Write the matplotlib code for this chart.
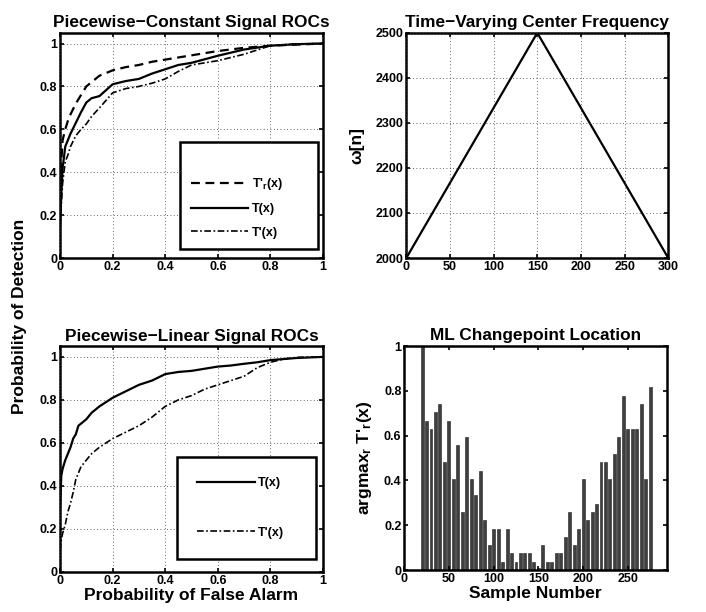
"""
Changepoint detection figure: ROC curves, centre frequency, ML changepoint histogram.
"""

import numpy as np
import matplotlib.pyplot as plt

# Piecewise-constant ROCs
PC_FA = [0, 0.005, 0.01, 0.02, 0.03, 0.04, 0.06, 0.08, 0.1, 0.12, 0.15, 0.2,
         0.25, 0.3, 0.35, 0.4, 0.45, 0.5, 0.6, 0.7, 0.8, 0.9, 1.0]
PC_TR = [0.2, 0.45, 0.55, 0.6, 0.64, 0.67, 0.72, 0.76, 0.8, 0.82, 0.85, 0.875,
         0.89, 0.9, 0.915, 0.925, 0.935, 0.945, 0.965, 0.98, 0.99, 0.995, 1.0]
PC_T = [0.15, 0.3, 0.42, 0.52, 0.55, 0.58, 0.63, 0.68, 0.725, 0.745, 0.755, 0.81,
        0.825, 0.835, 0.86, 0.88, 0.9, 0.91, 0.943, 0.972, 0.99, 0.997, 1.0]
PC_TP = [0.15, 0.25, 0.35, 0.45, 0.48, 0.52, 0.57, 0.6, 0.625, 0.66, 0.7, 0.77,
         0.79, 0.8, 0.815, 0.835, 0.87, 0.9, 0.92, 0.95, 0.99, 0.998, 1.0]

# Piecewise-linear ROCs
PL_FA = [0, 0.005, 0.01, 0.02, 0.03, 0.04, 0.05, 0.06, 0.07, 0.08, 0.1, 0.12,
         0.15, 0.2, 0.25, 0.3, 0.35, 0.4, 0.45, 0.5, 0.55, 0.6, 0.65, 0.7,
         0.75, 0.8, 0.85, 0.9, 1.0]
PL_T = [0.3, 0.45, 0.48, 0.52, 0.55, 0.58, 0.62, 0.64, 0.68, 0.69, 0.71, 0.74,
        0.77, 0.81, 0.84, 0.87, 0.89, 0.92, 0.93, 0.935, 0.945, 0.955, 0.96,
        0.968, 0.975, 0.985, 0.99, 0.995, 1.0]
PL_TP = [0.1, 0.15, 0.18, 0.22, 0.28, 0.32, 0.37, 0.43, 0.46, 0.49, 0.52, 0.55,
         0.58, 0.62, 0.65, 0.68, 0.72, 0.77, 0.8, 0.82, 0.85, 0.87, 0.89, 0.91,
         0.95, 0.975, 0.99, 0.998, 1.0]

# Time-varying centre frequency
FREQ_N = [0, 150, 300]
FREQ_W = [2000, 2500, 2000]

# ML changepoint location histogram
CP_N = list(range(20, 280, 5))
CP_VAL = [1.0, 0.667, 0.63, 0.704, 0.741, 0.482, 0.667, 0.407, 0.556, 0.259,
          0.593, 0.407, 0.333, 0.444, 0.222, 0.111, 0.185, 0.185, 0.037, 0.185,
          0.074, 0.037, 0.074, 0.074, 0.074, 0.037, 0.01, 0.111, 0.037, 0.037,
          0.074, 0.074, 0.148, 0.259, 0.111, 0.185, 0.407, 0.222, 0.259, 0.296,
          0.481, 0.481, 0.407, 0.519, 0.593, 0.778, 0.63, 0.63, 0.63, 0.741,
          0.407, 0.815]

plt.rcParams['font.family'] = ['Liberation Sans', 'DejaVu Sans']
plt.rcParams['font.weight'] = 'bold'
plt.rcParams['mathtext.fontset'] = 'custom'
plt.rcParams['mathtext.rm'] = 'Liberation Sans:bold'
plt.rcParams['mathtext.it'] = 'Liberation Sans:bold'
plt.rcParams['mathtext.bf'] = 'Liberation Sans:bold'

TICK_FS = 9
LABEL_FS = 12.5
TITLE_FS = 12.4
LEGEND_FS = 9


def style_axes(ax, grid=True):
    for s in ax.spines.values():
        s.set_linewidth(1.8)
    ax.tick_params(direction='in', top=True, right=True, length=3, width=1.2,
                   labelsize=TICK_FS, pad=2)
    for lab in ax.get_xticklabels() + ax.get_yticklabels():
        lab.set_fontweight('bold')
    if grid:
        ax.grid(True, linestyle=(0, (1, 3)), color='#333333', linewidth=0.6)
    ax.set_axisbelow(False)


def boxed_legend(ax, bbox, **kw):
    leg = ax.legend(loc='center', bbox_to_anchor=bbox, mode='expand',
                    borderaxespad=0, fontsize=LEGEND_FS, fancybox=False,
                    edgecolor='black', framealpha=1, **kw)
    leg.get_frame().set_linewidth(1.8)
    return leg


fig = plt.figure(figsize=(7.06, 6.12), dpi=100)
ax1 = fig.add_axes([0.085, 0.5784, 0.3725, 0.368])
ax2 = fig.add_axes([0.5755, 0.5784, 0.371, 0.368])
ax3 = fig.add_axes([0.085, 0.0654, 0.3725, 0.369])
ax4 = fig.add_axes([0.5725, 0.0686, 0.3725, 0.366])

ticks01 = [0, 0.2, 0.4, 0.6, 0.8, 1]
ticklab01 = ['0', '0.2', '0.4', '0.6', '0.8', '1']
dashdot = (0, (4, 1.5, 1, 1.5))

# Piecewise-constant ROCs
ax1.plot(PC_FA, PC_TR, color='black', lw=1.6, ls=(0, (4, 2.5)), label="T'$_r$(x)")
ax1.plot(PC_FA, PC_T, color='black', lw=1.6, ls='-', label='T(x)')
ax1.plot(PC_FA, PC_TP, color='black', lw=1.2, ls=dashdot, label="T'(x)")
ax1.set_xlim(0, 1)
ax1.set_ylim(0, 1.05)
ax1.set_xticks(ticks01, ticklab01)
ax1.set_yticks(ticks01, ticklab01)
ax1.set_title('Piecewise\u2212Constant Signal ROCs', fontsize=TITLE_FS,
              fontweight='bold', pad=4)
style_axes(ax1)
boxed_legend(ax1, (0.456, 0.036, 0.525, 0.48), title=' ', title_fontsize=9,
             handlelength=4.6, handletextpad=0.3, labelspacing=0.9, borderpad=0.85)

# Time-varying centre frequency
ax2.plot(FREQ_N, FREQ_W, color='black', lw=1.6)
ax2.set_xlim(0, 300)
ax2.set_ylim(2000, 2500)
ax2.set_xticks(range(0, 301, 50))
ax2.set_yticks(range(2000, 2501, 100))
ax2.set_title('Time\u2212Varying Center Frequency', fontsize=TITLE_FS,
              fontweight='bold', pad=4)
ax2.set_ylabel('\u03c9[n]', fontsize=LABEL_FS, fontweight='bold', labelpad=8)
style_axes(ax2)

# Piecewise-linear ROCs
ax3.plot(PL_FA, PL_T, color='black', lw=1.6, ls='-', label='T(x)')
ax3.plot(PL_FA, PL_TP, color='black', lw=1.2, ls=dashdot, label="T'(x)")
ax3.set_xlim(0, 1)
ax3.set_ylim(0, 1.05)
ax3.set_xticks(ticks01, ticklab01)
ax3.set_yticks(ticks01, ticklab01)
ax3.set_title('Piecewise\u2212Linear Signal ROCs', fontsize=TITLE_FS,
              fontweight='bold', pad=4)
ax3.set_xlabel('Probability of False Alarm', fontsize=LABEL_FS,
               fontweight='bold', labelpad=1)
style_axes(ax3)
boxed_legend(ax3, (0.445, 0.053, 0.53, 0.46),
             handlelength=4.6, handletextpad=0.3, labelspacing=3.0, borderpad=1.6)

# ML changepoint location
ax4.bar(CP_N, CP_VAL, width=3.3, color='#3f3f3f', edgecolor='#1e1e1e', linewidth=0.4)
ax4.set_xlim(0, 294)
ax4.set_ylim(0, 1)
ax4.set_xticks(range(0, 251, 50))
ax4.set_yticks(ticks01, ticklab01)
ax4.set_title('ML Changepoint Location', fontsize=TITLE_FS, fontweight='bold', pad=4)
ax4.set_xlabel('Sample Number', fontsize=LABEL_FS, fontweight='bold', labelpad=1)
ax4.set_ylabel("argmax$_r$ T'$_r$(x)", fontsize=LABEL_FS, fontweight='bold', labelpad=7)
style_axes(ax4, grid=False)

fig.text(0.027, 0.483, 'Probability of Detection', rotation=90, ha='center',
         va='center', fontsize=LABEL_FS, fontweight='bold')

fig.savefig('out.png', dpi=100)
